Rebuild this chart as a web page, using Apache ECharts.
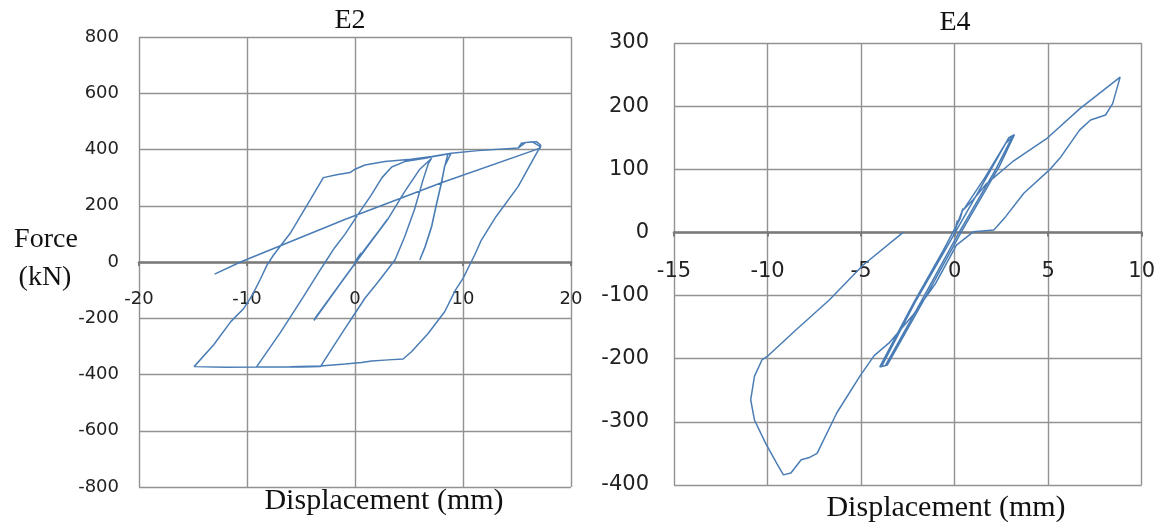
<!DOCTYPE html>
<html><head><meta charset="utf-8">
<script src="https://cdn.jsdelivr.net/npm/echarts@6/dist/echarts.min.js"></script>
<style>html,body{margin:0;padding:0;background:#fff}#c{width:1158px;height:522px}</style>
</head><body><div id="c"></div>
<script>
// ---------- DATA ----------
const titles = ['E2', 'E4'];
const xAxisName = 'Displacement (mm)';
const yAxisName = ['Force', '(kN)'];
// axis ranges / ticks [min, max, interval]
const e2XRange = [-20, 20, 10];
const e2YRange = [-800, 800, 200];
const e4XRange = [-15, 10, 5];
const e4YRange = [-400, 300, 100];

// E2 hysteresis path [displacement mm, force kN]
const e2Small = [[0,0],[0.55,32],[0.25,12],[1.6,80],[3.0,150],[1.2,58],[-1.2,-68],[-3.8,-206],[-1.6,-90],[0.9,42],[3.0,152],[0.4,16],[-3.7,-200],[-0.6,-36],[2.9,146],[1.0,48],[-1.8,-100],[-3.8,-208],[-1.0,-58],[1.8,90],[3.0,150]];
const e2FirstLoad = [[4.6,250],[6.0,330],[7.1,369]];
const e2MidUnload = [[6.8,351],[6.3,292],[5.5,186],[4.6,90],[3.7,7],[2.15,-70],[0.92,-129],[-0.3,-200],[-0.92,-236],[-2.0,-300],[-3.2,-372],[-5.0,-373],[-7.0,-373],[-9.1,-372]];
const e2MidReload = [[-6.9,-250],[-4.8,-125],[-3.0,-15],[-1.9,50],[-0.9,100],[0.3,170],[1.5,238],[2.5,300],[3.4,338],[4.6,357],[6.5,369],[7.4,376],[8.6,384]];
const e2MidSecond = [[8.3,339],[8.0,280],[7.5,197],[7.1,126],[6.5,54],[6.0,7],[6.5,56],[7.1,128],[7.5,199],[8.0,282],[8.3,341],[8.9,387]];
const e2BigLoad = [[11.4,396],[15.1,405],[15.4,422],[16.4,428],[17.15,410],[17.15,405]];
const e2BigUnload = [[15.1,268],[13.05,161],[11.7,78],[11.08,25],[10.0,-58],[9.3,-100],[8.3,-177],[6.77,-254],[5.23,-319],[4.46,-345],[3.08,-348],[1.54,-352],[0.62,-357],[-0.92,-363],[-3.2,-370],[-6.0,-372],[-9.0,-373],[-12.0,-374],[-14.9,-372]];
const e2BigReload = [[-13.1,-295],[-11.5,-212],[-10.3,-165],[-9.5,-117],[-8.8,-64],[-8.15,-11],[-7.54,25],[-6.0,102],[-4.15,221],[-2.93,300],[-1.7,310],[-0.46,318],[0,330],[0.92,345],[2.77,357],[5.2,365],[7.1,375],[8.9,387],[11.4,396],[15.1,405],[15.8,425],[16.8,428],[17.2,415],[17.15,405]];
const e2Final = [[8.0,282],[-1.0,150],[-10.6,0],[-13.0,-43]];

// E4 hysteresis path
const e4Small = [[0,0],[0.15,19],[0.05,6],[0.45,38],[0.3,22],[-0.6,-28],[-2.2,-112],[-4.0,-213],[-3.6,-210],[-1.6,-105],[0.4,3],[2.4,105],[3.2,155],[2.9,150],[1.8,92],[-0.2,-12],[-2.1,-110],[-3.9,-212],[-3.7,-211],[-1.8,-110],[0.2,-2],[2.2,100],[3.1,152],[2.7,140],[1.6,86],[0.45,35]];
const e4Load = [[1.0,52],[1.7,77],[3.1,112],[4.9,148],[6.7,196],[8.85,246]];
const e4Unload = [[8.45,204],[8.07,186],[7.27,178],[6.68,162],[5.69,120],[5.07,99],[3.7,62],[2.73,25],[2.1,4],[1.0,1],[0.1,-20],[-1.0,-80],[-2.2,-130],[-3.5,-175],[-4.3,-195],[-5.07,-228],[-6.3,-286],[-7.35,-350],[-7.8,-357],[-8.2,-360],[-8.75,-381],[-9.15,-384]];
const e4Reverse = [[-9.5,-366],[-10.1,-334],[-10.7,-297],[-10.9,-265],[-10.7,-228],[-10.3,-202],[-10.0,-196],[-8.5,-155],[-6.7,-107],[-4.9,-52],[-2.75,0]];

// ---------- CHART ----------
const e2Data = [].concat(e2Small, e2FirstLoad, e2MidUnload, e2MidReload, e2MidSecond, e2BigLoad, e2BigUnload, e2BigReload, e2Final);
const e4Data = [].concat(e4Small, e4Load, e4Unload, e4Reverse);

const LINE = '#4a7db5';
const GRID_C = '#929292';
const AXIS_C = '#7a7a7a';
const serif = '"Liberation Serif", "Times New Roman", serif';
const sans = '"DejaVu Sans", sans-serif';

const grids = [
  { left: 139, top: 37, width: 432, height: 450 },
  { left: 674, top: 43, width: 468, height: 442 }
];
// put x axis line on y = 0 via offset (labels follow the line)
function zeroOffset(g, r) { return -g.height * (0 - r[0]) / (r[1] - r[0]); }

function xAx(gi, r, yr, fs, margin) {
  return {
    type: 'value', gridIndex: gi, min: r[0], max: r[1], interval: r[2],
    position: 'bottom', offset: zeroOffset(grids[gi], yr),
    axisLine: { show: true, onZero: false, lineStyle: { color: AXIS_C, width: 2.6 } },
    axisTick: { show: true, length: 4, lineStyle: { color: AXIS_C, width: 2 } },
    axisLabel: { margin: margin, fontSize: fs, fontFamily: sans, color: '#222', showMinLabel: true, showMaxLabel: true },
    splitLine: { show: true, showMinLine: true, showMaxLine: true, lineStyle: { color: GRID_C, width: 1.4 } }
  };
}
function yAx(gi, r, fs, margin) {
  return {
    type: 'value', gridIndex: gi, min: r[0], max: r[1], interval: r[2],
    axisLine: { show: false }, axisTick: { show: false },
    axisLabel: { margin: margin, fontSize: fs, fontFamily: sans, color: '#222', showMinLabel: true, showMaxLabel: true },
    splitLine: { show: true, showMinLine: true, showMaxLine: true, lineStyle: { color: GRID_C, width: 1.4 } }
  };
}
function txt(t, x, y, size) {
  return { type: 'text', x: x, y: y, style: { text: t, fill: '#111', font: size + 'px ' + serif, textAlign: 'center', textVerticalAlign: 'middle' } };
}

const chart = echarts.init(document.getElementById('c'), null, { renderer: 'canvas' });
chart.setOption({
  animation: false,
  backgroundColor: '#fff',
  grid: grids,
  xAxis: [xAx(0, e2XRange, e2YRange, 18, 28), xAx(1, e4XRange, e4YRange, 21, 29)],
  yAxis: [yAx(0, e2YRange, 18, 20), yAx(1, e4YRange, 21, 25)],
  series: [
    { type: 'line', xAxisIndex: 0, yAxisIndex: 0, data: e2Data, showSymbol: false, smooth: false, lineStyle: { color: LINE, width: 1.5 } },
    { type: 'line', xAxisIndex: 1, yAxisIndex: 1, data: e4Data, showSymbol: false, smooth: false, lineStyle: { color: LINE, width: 1.5 } }
  ],
  graphic: [
    txt(titles[0], 350, 21, 28),
    txt(titles[1], 955, 23, 28),
    txt(xAxisName, 384, 501, 30),
    txt(xAxisName, 946, 508, 30),
    txt(yAxisName[0], 46, 240, 28),
    txt(yAxisName[1], 45, 278, 28)
  ]
});
</script>
</body></html>
